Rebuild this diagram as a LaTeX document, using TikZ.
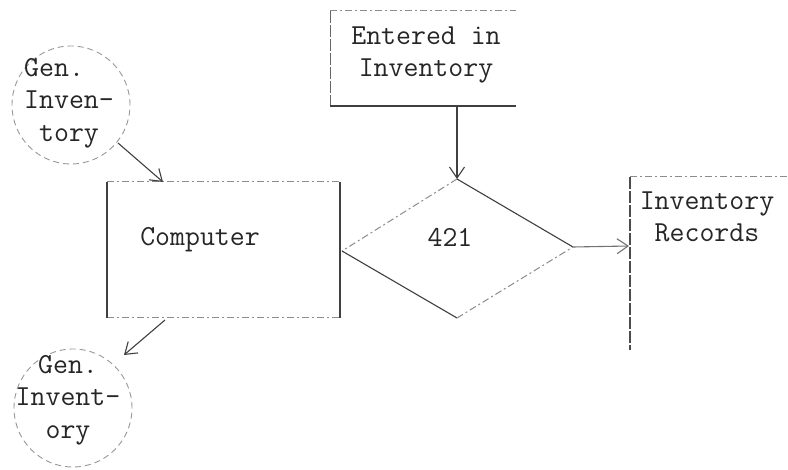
\documentclass[tikz,border=0pt]{standalone}
\usetikzlibrary{shapes.geometric,arrows.meta}
\begin{document}
\begin{tikzpicture}[x=1pt,y=-1pt,
  txt/.style={font=\fontsize{29}{32.5}\selectfont\ttfamily, text=black!85, inner sep=0pt},
  dline/.style={draw=black!45, dash pattern=on 7pt off 3pt on 2pt off 3pt, line width=1pt},
  sline/.style={draw=black!75, line width=1.1pt},
  circ/.style={circle, draw=black!40, dash pattern=on 6pt off 4pt, line width=0.9pt, minimum size=118pt, inner sep=0pt},
  arr/.style={draw=black!75, line width=1.1pt, -{Straight Barb[length=11pt,width=15pt]}}]
\useasboundingbox[fill=white] (0,0) rectangle (788,470);

% top circle
\node[circ] (g1) at (71,105) {};
\node[txt, align=left, anchor=west] (g1t) at (24,103) {Gen.\\Inven-\\\hphantom{I}tory};

% computer box
\coordinate (cnw) at (107,182);
\coordinate (cne) at (340,182);
\coordinate (csw) at (107,318);
\coordinate (cse) at (340,318);
\path[dline] (cnw) -- (cne);
\path[dline] (csw) -- (cse);
\path[sline] (cnw) -- (csw);
\path[sline] (cne) -- (cse);
\node[txt] (comp) at (200,240) {Computer};

% entered box (open on the right)
\coordinate (enw) at (330,11);
\coordinate (ene) at (516,11);
\coordinate (esw) at (330,106);
\coordinate (ese) at (516,106);
\path[dline] (enw) -- (ene);
\path[draw=black!60, line width=1pt, dash pattern=on 12pt off 2pt] (enw) -- (esw);
\path[sline] (esw) -- (ese);
\node[txt, align=center] (entt) at (426,55) {Entered in\\Inventory};

% diamond
\coordinate (dt) at (457,179);
\coordinate (dl) at (342,251);
\coordinate (dr) at (573,247);
\coordinate (db) at (457,318);
\path[dline] (dt) -- (dl);
\path[sline] (dt) -- (dr);
\path[sline] (dl) -- (db);
\path[dline] (db) -- (dr);
\node[txt] (d421) at (450,237) {421};

% records
\coordinate (rnw) at (630,177);
\coordinate (rne) at (788,177);
\coordinate (rsw) at (630,350);
\path[dline] (rnw) -- (rne);
\path[draw=black!70, line width=1.1pt, dash pattern=on 12pt off 2pt] (rnw) -- (rsw);
\node[txt, align=center] (rec) at (707,217) {Inventory\\Records};

% bottom circle
\node[circ] (g2) at (73,408) {};
\node[txt, align=center] (g2t) at (68,400) {Gen.\\Invent-\\ory};

% arrows
\coordinate (a1s) at (118,143);
\coordinate (a1e) at (163,182);
\draw[arr] (a1s) -- (a1e);
\coordinate (a2s) at (457,106);
\draw[arr] (a2s) -- (dt);
\coordinate (a3e) at (629,246);
\draw[arr, draw=black!55] (dr) -- (a3e);
\coordinate (a4s) at (165,320);
\coordinate (a4e) at (124,355);
\draw[arr] (a4s) -- (a4e);
\end{tikzpicture}
\end{document}
